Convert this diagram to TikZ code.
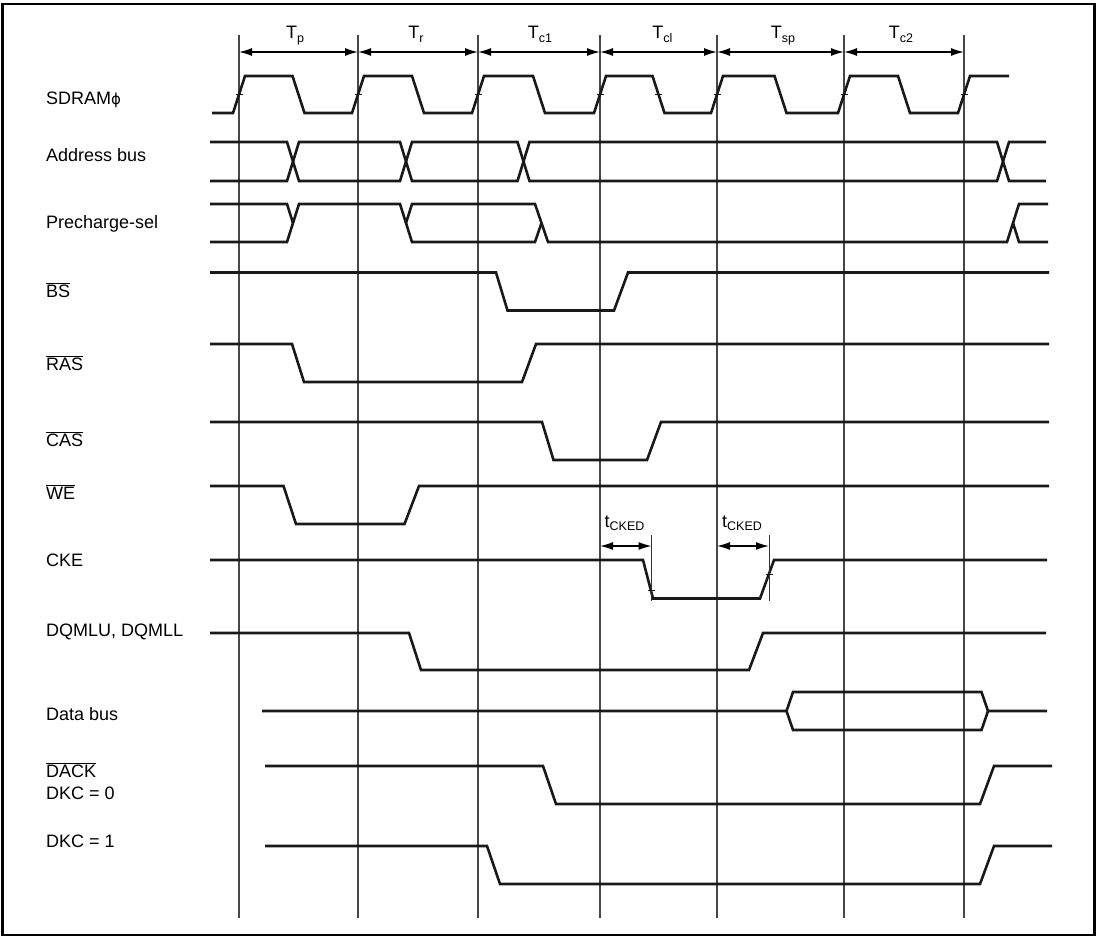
\documentclass[tikz,border=0pt]{standalone}
\usepackage{fontspec}
\setmainfont{Liberation Sans}
\newfontfamily\djv{DejaVu Sans}
\usetikzlibrary{arrows.meta}
\newcommand\ovl[1]{$\overline{\mbox{#1}}$}
\newcommand\subx[1]{\raisebox{-3.5pt}{\fontsize{12.5}{12}\selectfont #1}}
\begin{document}
\begin{tikzpicture}[x=1pt,y=-1pt,
  sig/.style={line width=2.6pt, line join=miter, black!90},
  gridln/.style={line width=1.2pt, black!72},
  dimarrow/.style={line width=1.3pt, {Latex[length=13pt,width=8pt]}-{Latex[length=13pt,width=8pt]}},
  lbl/.style={anchor=base west, inner sep=0pt, font=\fontsize{18}{21}\selectfont},
  per/.style={anchor=base, inner sep=0pt, font=\fontsize{18}{21}\selectfont},
  tickmark/.style={line width=1pt, black!90},
  marker/.style={line width=1pt, black!80}]
\useasboundingbox (0,0) rectangle (1097,938);
\draw[line width=2.6pt] (2.5,4) rectangle (1094.5,935);

% grid lines and period arrows
\foreach \n/\x in {1/239,2/358,3/478,4/600,5/717,6/844,7/964} {
  \coordinate (g\n t) at (\x,35);
  \coordinate (g\n b) at (\x,918);
  \coordinate (g\n a) at (\x,52);
  \draw[gridln] (g\n t) -- (g\n b);
}
\draw[dimarrow] (g1a) -- (g2a);
\draw[dimarrow] (g2a) -- (g3a);
\draw[dimarrow] (g3a) -- (g4a);
\draw[dimarrow] (g4a) -- (g5a);
\draw[dimarrow] (g5a) -- (g6a);
\draw[dimarrow] (g6a) -- (g7a);

\node[per] (Tp)  at (295,38.5) {T\subx{p}};
\node[per] (Tr)  at (416,38.5) {T\subx{r}};
\node[per] (Tc1) at (540,38.5) {T\subx{c1}};
\node[per] (Tcl) at (662.5,38.5) {T\subx{cl}};
\node[per] (Tsp) at (783,38.5) {T\subx{sp}};
\node[per] (Tc2) at (901,38.5) {T\subx{c2}};

% signal labels
\node[lbl] (lclk) at (46,104) {SDRAM{\djv\fontsize{15}{18}\selectfont ϕ}};
\node[lbl] (laddr) at (46,161.5) {Address bus};
\node[lbl] (lpre) at (46,228) {Precharge-sel};
\node[lbl] (lbs) at (46,297) {\ovl{BS}};
\node[lbl] (lras) at (46,370) {\ovl{RAS}};
\node[lbl] (lcas) at (46,446) {\ovl{CAS}};
\node[lbl] (lwe) at (46,499) {\ovl{WE}};
\node[lbl] (lcke) at (46,566) {CKE};
\node[lbl] (ldqm) at (46,636) {DQMLU, DQMLL};
\node[lbl] (ldata) at (46,720) {Data bus};
\node[lbl] (ldack) at (46,777) {\ovl{DACK}};
\node[lbl] (ldkc0) at (46,799.5) {DKC = 0};
\node[lbl] (ldkc1) at (46,847.5) {DKC = 1};

% SDRAM clock
\draw[sig] (212,113) -- (233,113) -- (245,76) -- (292.5,76) -- (304.5,113) -- (352,113) -- (364,76)
  -- (412,76) -- (424,113) -- (472,113) -- (484,76) -- (533,76) -- (545,113) -- (594,113) -- (606,76)
  -- (652.5,76) -- (664.5,113) -- (711,113) -- (723,76) -- (774.5,76) -- (786.5,113) -- (838,113)
  -- (850,76) -- (898,76) -- (910,113) -- (958,113) -- (970,76) -- (1009,76);
\foreach \x in {239,358,478,600,717,844,964,658.5}
  \draw[tickmark] (\x-3.5,94.5) -- (\x+3.5,94.5);

% Address bus
\draw[sig] (210,142) -- (287,142) -- (299,181) -- (400,181) -- (412,142) -- (517.5,142) -- (529.5,181)
  -- (997,181) -- (1009,142) -- (1046,142);
\draw[sig] (210,181) -- (287,181) -- (299,142) -- (400,142) -- (412,181) -- (517.5,181) -- (529.5,142)
  -- (997,142) -- (1009,181) -- (1046,181);

% Precharge-sel
\draw[sig] (210,204) -- (287,204) -- (293,223);
\draw[sig] (210,242) -- (287,242) -- (299,204) -- (400,204) -- (412,242) -- (535,242) -- (541.5,223);
\draw[sig] (406,223) -- (412,204) -- (535,204) -- (548,242) -- (1007,242) -- (1019,204) -- (1048,204);
\draw[sig] (1013,223) -- (1019,242) -- (1048,242);

% BS
\draw[sig] (210,272.5) -- (496,272.5) -- (507.5,310.5) -- (614,310.5) -- (628,272.5) -- (1049,272.5);
% RAS
\draw[sig] (210,344) -- (292,344) -- (304,382) -- (522,382) -- (536,344) -- (1049,344);
% CAS
\draw[sig] (210,422) -- (542,422) -- (553.5,460) -- (647,460) -- (661,422) -- (1049,422);
% WE
\draw[sig] (210,486) -- (283.5,486) -- (296,524) -- (404.5,524) -- (419,486) -- (1049,486);
% CKE
\draw[sig] (210,560) -- (643,560) -- (653,598.5) -- (760,598.5) -- (774,560) -- (1047,560);
\coordinate (m1t) at (651.5,535);
\coordinate (m1b) at (651.5,601);
\coordinate (m2t) at (769,535);
\coordinate (m2b) at (769,601);
\draw[marker] (m1t) -- (m1b);
\draw[marker] (m2t) -- (m2b);
\coordinate (a1l) at (600,546);
\coordinate (a1r) at (651.5,546);
\coordinate (a2l) at (717,546);
\coordinate (a2r) at (769,546);
\draw[dimarrow] (a1l) -- (a1r);
\draw[dimarrow] (a2l) -- (a2r);
\draw[tickmark] (648,590) -- (655,590);
\draw[tickmark] (765.5,574.5) -- (772.5,574.5);
\node[lbl] (tck1) at (604.5,527) {t\subx{CKED}};
\node[lbl] (tck2) at (722,527) {t\subx{CKED}};

% DQMLU, DQMLL
\draw[sig] (210,633) -- (409,633) -- (421,670) -- (749,670) -- (763,633) -- (1046,633);
% Data bus
\draw[sig] (262,711) -- (786.5,711) -- (793,692) -- (981.5,692) -- (988,711) -- (1047,711);
\draw[sig] (786.5,711) -- (793,730) -- (981.5,730) -- (988,711);
% DACK DKC=0
\draw[sig] (265,766) -- (543,766) -- (556,804) -- (980,804) -- (994,766) -- (1052,766);
% DKC=1
\draw[sig] (265,846) -- (487,846) -- (500,884) -- (980,884) -- (994,846) -- (1052,846);
\end{tikzpicture}
\end{document}
